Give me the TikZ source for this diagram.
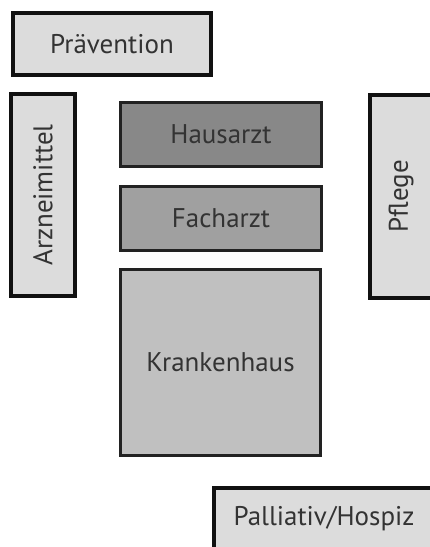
\documentclass[tikz,border=0pt]{standalone}
\usepackage{fontspec}
\setmainfont{PT Sans}
\definecolor{lightbox}{HTML}{DCDCDC}
\definecolor{darkbox}{HTML}{888888}
\definecolor{midbox}{HTML}{A0A0A0}
\definecolor{khbox}{HTML}{C0C0C0}
\definecolor{txt}{HTML}{333333}
\definecolor{edgeouter}{HTML}{111111}
\definecolor{edgeinner}{HTML}{222222}
\tikzset{
  outerbox/.style={draw=edgeouter, line width=4pt, fill=lightbox, text=txt, inner sep=0pt, font=\fontsize{27}{31}\selectfont},
  innerbox/.style={draw=edgeinner, line width=3pt, text=txt, inner sep=0pt, font=\fontsize{27}{31}\selectfont},
}
\begin{document}
\begin{tikzpicture}[x=1pt,y=-1pt]
\useasboundingbox (0,0) rectangle (430,547);
\clip (0,0) rectangle (430,547);
\fill[white] (0,0) rectangle (430,547);
\node[outerbox, minimum width=198pt, minimum height=62pt] (praev) at (112,44) {Prävention};
\node[outerbox, minimum width=64pt, minimum height=202pt] (arz) at (43,195) {\rotatebox{90}{Arzneimittel}};
\node[outerbox, minimum width=62pt, minimum height=203pt] (pfl) at (401,196.5) {\rotatebox{90}{Pflege}};
\node[innerbox, fill=darkbox, minimum width=201pt, minimum height=64pt] (haus) at (221,134.5) {Hausarzt};
\node[innerbox, fill=midbox, minimum width=201pt, minimum height=64pt] (fach) at (221,218.5) {Facharzt};
\node[innerbox, fill=khbox, minimum width=200pt, minimum height=186pt] (kh) at (220.5,362.5) {Krankenhaus};
\node[outerbox, minimum width=220pt, minimum height=62pt] (pall) at (324,519) {Palliativ/Hospiz};
\end{tikzpicture}
\end{document}
